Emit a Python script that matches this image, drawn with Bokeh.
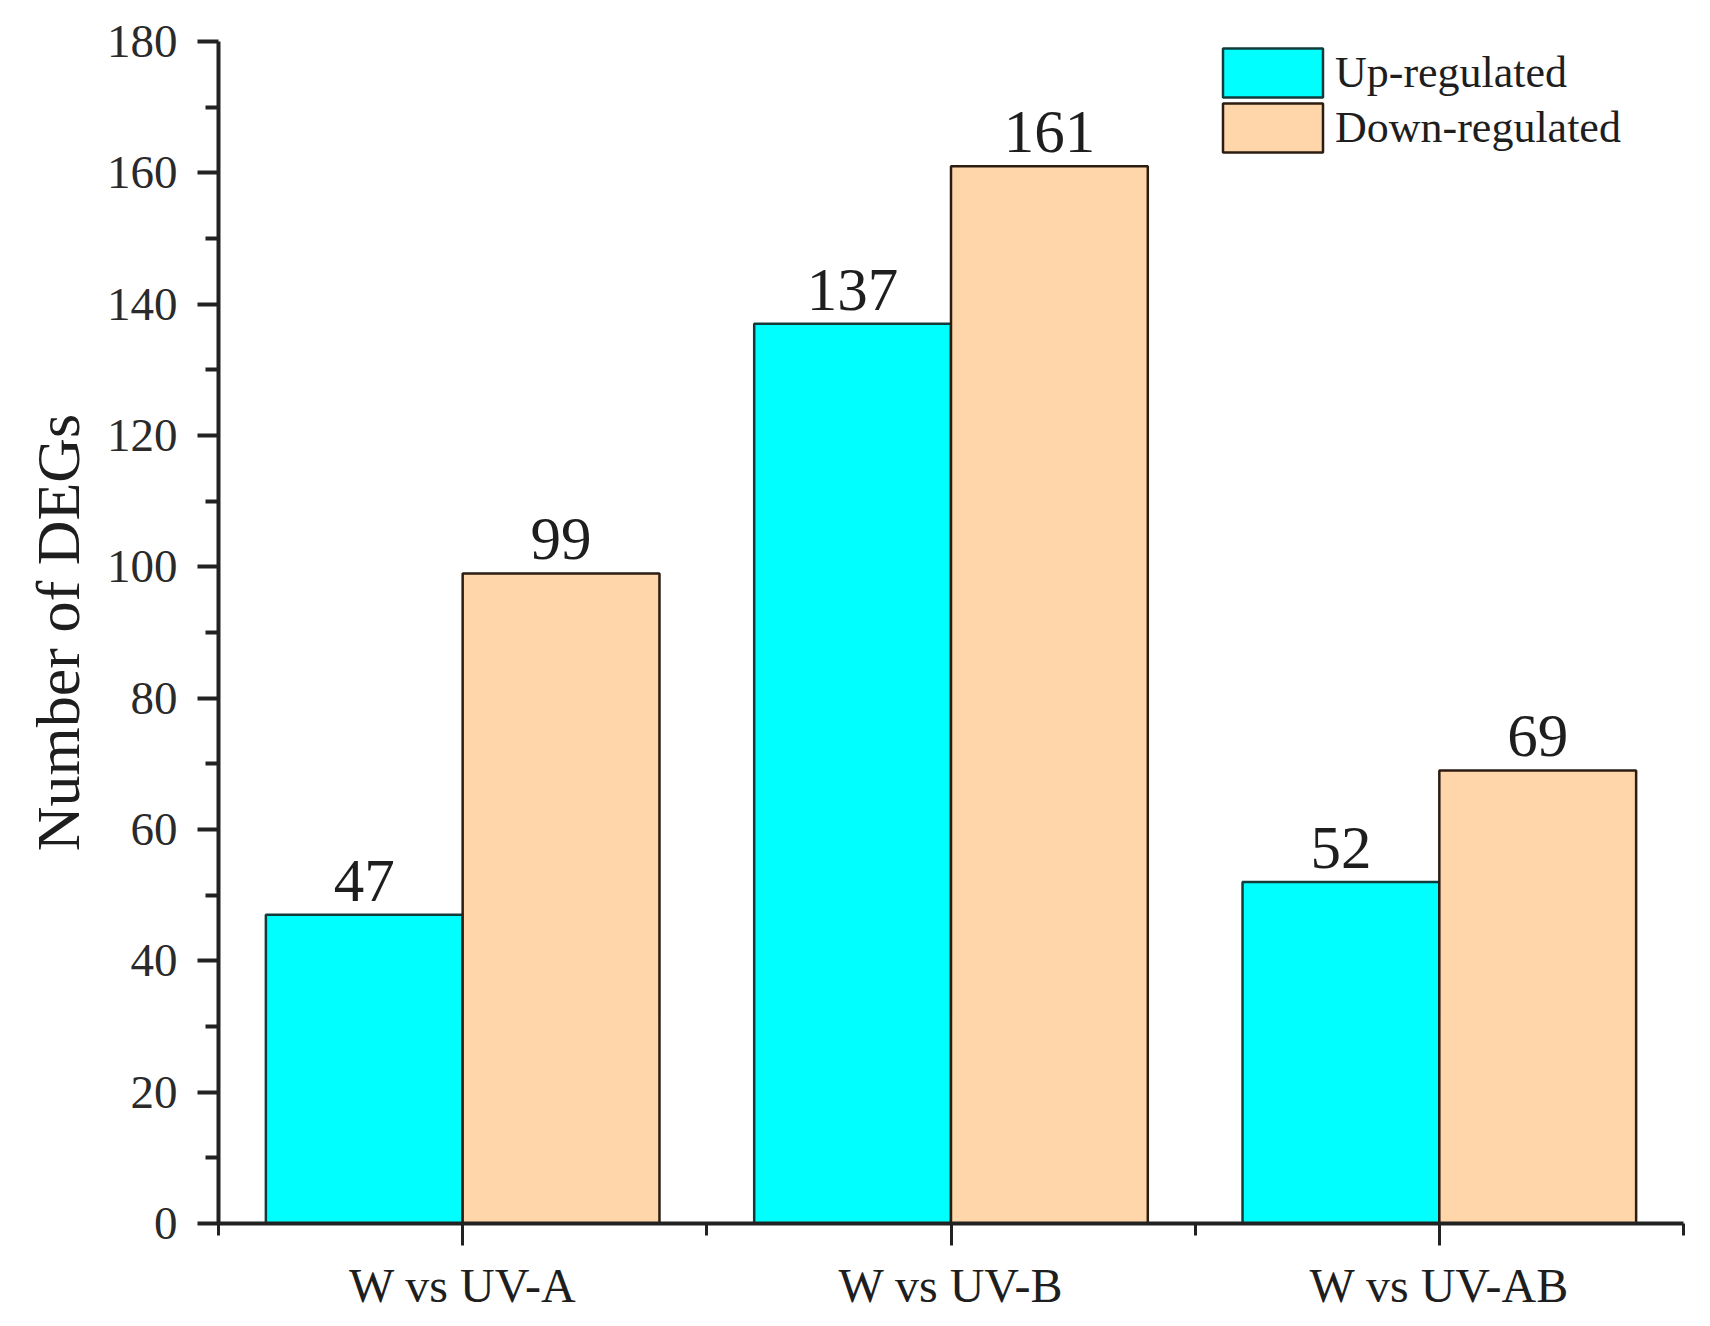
from bokeh.plotting import figure
from bokeh.models import Range1d, FixedTicker, Legend, LegendItem, ColumnDataSource
from bokeh.core.properties import value
from bokeh.embed import file_html
from bokeh.resources import INLINE

categories = ["W vs UV-A", "W vs UV-B", "W vs UV-AB"]
up_regulated = [47, 137, 52]
down_regulated = [99, 161, 69]
series_names = ["Up-regulated", "Down-regulated"]
y_ticks = [0, 20, 40, 60, 80, 100, 120, 140, 160, 180]
y_minor_ticks = [10, 30, 50, 70, 90, 110, 130, 150, 170]

FONT = "Liberation Serif"
TXT = "#1e1e1e"
UP_FILL, UP_LINE = "#00FFFF", "#123c3c"
DN_FILL, DN_LINE = "#FFD6AA", "#2b1d12"

n = len(categories)
centers = [i + 0.5 for i in range(n)]
bar_w = 0.403
off = 0.2015

src_up = ColumnDataSource(dict(x=[c - off for c in centers], top=up_regulated,
                               lab=[str(v) for v in up_regulated]))
src_dn = ColumnDataSource(dict(x=[c + off for c in centers], top=down_regulated,
                               lab=[str(v) for v in down_regulated]))

p = figure(width=1698, height=1318, x_range=Range1d(0, n), y_range=Range1d(0, 180),
           output_backend="svg", toolbar_location=None,
           min_border_left=218, min_border_right=15, min_border_top=41, min_border_bottom=95)
p.outline_line_color = None
p.xgrid.grid_line_color = None
p.ygrid.grid_line_color = None
p.background_fill_color = "white"
p.border_fill_color = "white"

r_up = p.vbar(x="x", top="top", bottom=0, width=bar_w, source=src_up,
              fill_color=UP_FILL, line_color=UP_LINE, line_width=2.5)
r_dn = p.vbar(x="x", top="top", bottom=0, width=bar_w, source=src_dn,
              fill_color=DN_FILL, line_color=DN_LINE, line_width=2.5)

for s in (src_up, src_dn):
    p.text(x="x", y="top", text="lab", source=s, text_align="center",
           text_baseline="bottom", y_offset=-14,
           text_font=value(FONT), text_font_size="61px", text_color=TXT)

# y axis
ya = p.yaxis[0]
ya.ticker = FixedTicker(ticks=y_ticks, minor_ticks=y_minor_ticks)
ya.axis_label = "Number of DEGs"
ya.axis_label_text_font = FONT
ya.axis_label_text_font_size = "62px"
ya.axis_label_text_font_style = "normal"
ya.axis_label_text_color = TXT
ya.axis_label_standoff = 12
ya.major_label_text_font = FONT
ya.major_label_text_font_size = "47px"
ya.major_label_text_color = "#2a2a2a"
ya.major_label_standoff = 20
ya.axis_line_width = 4
ya.axis_line_color = "#222222"
ya.major_tick_out = 21
ya.major_tick_in = 0
ya.minor_tick_out = 13
ya.minor_tick_in = 0
ya.major_tick_line_width = 4
ya.minor_tick_line_width = 4
ya.major_tick_line_color = "#222222"
ya.minor_tick_line_color = "#222222"

# x axis
xa = p.xaxis[0]
xa.ticker = FixedTicker(ticks=centers, minor_ticks=list(range(n + 1)))
xa.major_label_overrides = {c: lab for c, lab in zip(centers, categories)}
xa.major_label_text_font = FONT
xa.major_label_text_font_size = "48px"
xa.major_label_text_color = TXT
xa.major_label_standoff = 13
xa.axis_line_width = 4
xa.axis_line_color = "#222222"
xa.major_tick_out = 22
xa.major_tick_in = 0
xa.minor_tick_out = 12
xa.minor_tick_in = 0
xa.major_tick_line_width = 3
xa.minor_tick_line_width = 3
xa.major_tick_line_color = "#222222"
xa.minor_tick_line_color = "#222222"

legend_locs = [(992, 1120), (992, 1065)]
for name, rend, loc in zip(series_names, [r_up, r_dn], legend_locs):
    lg = Legend(items=[LegendItem(label=name, renderers=[rend])],
                location=loc, orientation="vertical",
                glyph_width=125, glyph_height=61, label_height=61, spacing=0,
                padding=0, margin=0, label_standoff=0,
                border_line_alpha=0, background_fill_alpha=0,
                label_text_font=FONT, label_text_font_size="44px", label_text_color=TXT)
    p.add_layout(lg)

open("out.html", "w").write(file_html(p, INLINE))
